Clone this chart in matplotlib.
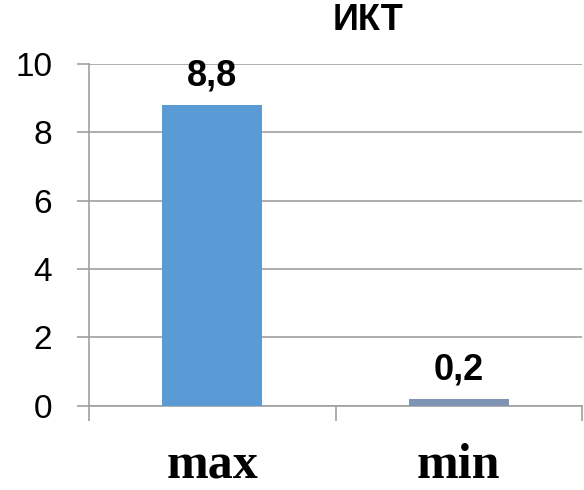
import numpy as np
import matplotlib
matplotlib.use("Agg")
import matplotlib.pyplot as plt

categories = ["max", "min"]
values = [8.8, 0.2]
value_labels = ["8,8", "0,2"]
bar_colors = ["#5B9BD5", "#7F94B4"]
yticks = [0, 2, 4, 6, 8, 10]
title = "ИКТ"

grid_col = "#A0A0A0"

fig = plt.figure(figsize=(5.84, 4.9), dpi=100)
ax = fig.add_axes([89 / 584, (490 - 405.7) / 490, (582 - 89) / 584, (405.7 - 64) / 490])

x = np.arange(len(categories))
bars = ax.bar(x, values, width=0.405, color=bar_colors, zorder=3)

for b, lab in zip(bars, value_labels):
    ax.annotate(lab, (b.get_x() + b.get_width() / 2, b.get_height()),
                xytext=(0, 8), textcoords="offset points",
                ha="center", va="bottom", fontsize=26, fontweight="bold",
                family="Liberation Sans")

ax.set_xlim(-0.5, len(categories) - 0.5)
ax.set_ylim(0, 10)
ax.set_yticks(yticks)
ax.set_yticklabels([str(t) for t in yticks], fontsize=24, family="Liberation Sans")
ax.yaxis.grid(True, color=grid_col, linewidth=1.2, zorder=0)
ax.tick_params(axis="y", length=8.5, width=1.2, color=grid_col, pad=18)

ax.set_xticks(x)
ax.set_xticklabels(categories, fontsize=36, fontweight="bold", family="Liberation Serif")
ax.tick_params(axis="x", length=0, pad=27)
ax.set_xticks(np.arange(len(categories) + 1) - 0.5, minor=True)
ax.tick_params(axis="x", which="minor", length=10.5, width=1.2, color=grid_col)

for s in ["top", "right"]:
    ax.spines[s].set_visible(False)
for s in ["left", "bottom"]:
    ax.spines[s].set_color(grid_col)
    ax.spines[s].set_linewidth(1.2)

fig.text(368 / 584, 1 - 21 / 490, title, ha="center", va="center",
         fontsize=26, fontweight="bold", family="Liberation Sans")

fig.savefig("out.png", dpi=100)
